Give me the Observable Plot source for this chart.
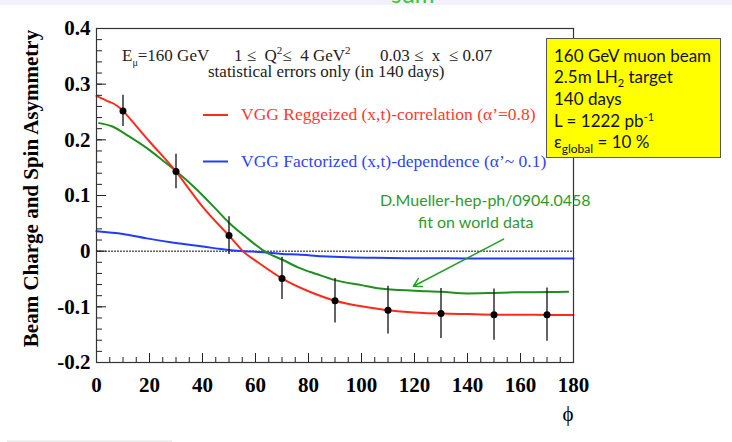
<!DOCTYPE html>
<html><head><meta charset="utf-8">
<script src="https://cdn.jsdelivr.net/npm/d3@7"></script>
<script src="https://cdn.jsdelivr.net/npm/@observablehq/plot@0.6"></script>
<style>
body{margin:0;background:#fff;}
#wrap{position:relative;width:732px;height:442px;overflow:hidden;background:#fff;}
svg text{white-space:pre;}
</style></head><body><div id="wrap"></div>
<script>
// ---- data ----
const pointPhi = [10, 30, 50, 70, 90, 110, 130, 150, 170];
const pointAsym = [0.252, 0.143, 0.028, -0.049, -0.089, -0.106, -0.112, -0.114, -0.114];
const pointErr = [0.028, 0.031, 0.034, 0.038, 0.040, 0.043, 0.045, 0.046, 0.048];

const redPhi = [0, 5, 10, 20, 30, 40, 50, 55, 60, 70, 80, 90, 100, 110, 120, 130, 140, 150, 160, 170, 180];
const redAsym = [0.279, 0.268, 0.252, 0.197, 0.143, 0.080, 0.028, 0.001, -0.017, -0.049, -0.072, -0.089, -0.099, -0.106, -0.110, -0.112, -0.113, -0.114, -0.114, -0.1145, -0.1145];

const greenPhi = [1, 6, 12, 19, 25, 30, 38, 45, 50, 57, 64, 70, 76, 83, 90, 100, 107, 120, 130, 140, 150, 158, 170, 178];
const greenAsym = [0.230, 0.224, 0.207, 0.185, 0.163, 0.144, 0.110, 0.076, 0.051, 0.023, -0.002, -0.015, -0.029, -0.041, -0.052, -0.061, -0.067, -0.071, -0.073, -0.076, -0.075, -0.074, -0.0735, -0.073];

const bluePhi = [0, 10, 19, 28, 38, 45, 50, 56, 63, 70, 76, 85, 95, 105, 120, 140, 160, 180];
const blueAsym = [0.036, 0.031, 0.023, 0.016, 0.0096, 0.005, 0.002, 0.000, -0.002, -0.005, -0.006, -0.009, -0.011, -0.012, -0.0126, -0.013, -0.013, -0.013];

const xMajorTicks = [0, 20, 40, 60, 80, 100, 120, 140, 160, 180];
const xMinorTicks = d3.range(0, 181, 5);
const yMajorTicks = [-0.2, -0.1, 0, 0.1, 0.2, 0.3, 0.4];
const yMinorTicks = d3.range(-10, 21).map(i => i * 0.02);

const arrowFrom = [153.6, 0.0216];
const arrowTo = [119.6, -0.063];

const infoLines = ["160 GeV muon beam", "2.5m LH<tspan dy='4' font-size='11'>2</tspan><tspan dy='-4'> target</tspan>", "140 days", "L = 1222 pb<tspan dy='-6' font-size='11'>-1</tspan>", "ε<tspan dy='5' font-size='12'>global</tspan><tspan dy='-5'> = 10 %</tspan>"];

const points = pointPhi.map((p, i) => ({phi: p, a: pointAsym[i], e: pointErr[i]}));
const red = redPhi.map((p, i) => ({phi: p, a: redAsym[i]}));
const green = greenPhi.map((p, i) => ({phi: p, a: greenAsym[i]}));
const blue = bluePhi.map((p, i) => ({phi: p, a: blueAsym[i]}));

const RED = "#ff2a1a", GREEN = "#1f8f1f", BLUE = "#1f3cff";
const serif = "Liberation Serif";

const chart = Plot.plot({
  width: 732, height: 442,
  marginLeft: 96, marginRight: 159, marginTop: 28, marginBottom: 80,
  x: {domain: [0, 180], label: null},
  y: {domain: [-0.2, 0.4], label: null},
  style: {fontFamily: serif, background: "transparent", color: "#000"},
  marks: [
    Plot.ruleY([0], {stroke: "#111", strokeWidth: 1, strokeDasharray: "2,1"}),
    Plot.line(blue, {x: "phi", y: "a", stroke: BLUE, strokeWidth: 2, curve: "monotone-x"}),
    Plot.line(green, {x: "phi", y: "a", stroke: GREEN, strokeWidth: 2, curve: "monotone-x"}),
    Plot.line(red, {x: "phi", y: "a", stroke: RED, strokeWidth: 2, curve: "natural"}),
    Plot.ruleX(points, {x: "phi", y1: d => d.a - d.e, y2: d => d.a + d.e, stroke: "#222", strokeWidth: 1.4}),
    Plot.dot(points, {x: "phi", y: "a", r: 3.5, fill: "#000", stroke: "none"}),
    Plot.arrow([0], {x1: () => arrowFrom[0], y1: () => arrowFrom[1], x2: () => arrowTo[0], y2: () => arrowTo[1], stroke: "#22a022", strokeWidth: 1.5, headLength: 9}),
    Plot.axisY(yMinorTicks, {tickSize: -6, tickFormat: () => "", stroke: "#222", label: null}),
    Plot.axisY(yMajorTicks, {tickSize: -10, tickFormat: () => "", stroke: "#222", label: null}),
    Plot.axisY(yMajorTicks, {tickSize: 0, tickPadding: 6, fontSize: 21, fontWeight: "bold", label: null,
      tickFormat: d => d === 0 ? "0" : d.toFixed(1)}),
    Plot.axisX(xMinorTicks, {tickSize: -5, tickFormat: () => "", stroke: "#222", label: null}),
    Plot.axisX(xMajorTicks, {tickSize: -9, tickFormat: () => "", stroke: "#222", label: null}),
    Plot.axisX(xMajorTicks, {tickSize: 0, tickPadding: 15, fontSize: 21, fontWeight: "bold", label: null, tickFormat: d => String(d)}),
    Plot.frame({stroke: "#333", strokeWidth: 1.2})
  ]
});

const wrap = document.getElementById("wrap");
wrap.appendChild(chart);
const svg = d3.select(chart);

// page decorations
svg.insert("rect", ":first-child").attr("x", 0).attr("y", 0).attr("width", 732).attr("height", 5).attr("fill", "#f2f0fb");
svg.append("text").attr("x", 391).attr("y", 3).attr("text-anchor", "start").attr("font-family", "Lato").attr("font-size", 24).attr("fill", "#2fcc2f").text("sum");
svg.append("rect").attr("x", 7).attr("y", 440.5).attr("width", 165).attr("height", 1.5).attr("fill", "#e8e8e8");

// axis labels
svg.append("text").attr("transform", "translate(37.5,188.5) rotate(-90)").attr("text-anchor", "middle")
  .attr("font-family", serif).attr("font-weight", "bold").attr("font-size", 21).text("Beam Charge and Spin Asymmetry");
svg.append("text").attr("x", 568).attr("y", 421).attr("text-anchor", "middle")
  .attr("font-family", serif).attr("font-size", 21).text("ϕ");

// in-plot header
function t(x, y, html, size, color, font) {
  return svg.append("text").attr("x", x).attr("y", y).attr("text-anchor", "start").attr("font-family", font || serif)
    .attr("font-size", size).attr("fill", color || "#222").html(html);
}
t(122, 61, "E<tspan dy='5' font-size='10'>μ</tspan><tspan dy='-5'>=160 GeV</tspan>", 17);
t(234, 61, "1 ≤  Q<tspan dy='-7' font-size='11'>2</tspan><tspan dy='7'>≤  4 GeV</tspan><tspan dy='-7' font-size='11'>2</tspan>", 17);
t(380, 61, "0.03 ≤  x  ≤ 0.07", 17);
t(208, 77, "statistical errors only (in 140 days)", 17);

// legend
svg.append("line").attr("x1", 203).attr("x2", 228).attr("y1", 115).attr("y2", 115).attr("stroke", RED).attr("stroke-width", 2);
t(241, 120, "VGG Reggeized (x,t)-correlation (α’=0.8)", 17.5, "#ff3a33");
svg.append("line").attr("x1", 203).attr("x2", 228).attr("y1", 161.5).attr("y2", 161.5).attr("stroke", BLUE).attr("stroke-width", 2);
t(241, 166.5, "VGG Factorized (x,t)-dependence (α’~ 0.1)", 17.5, "#2f44ff");

// green annotation
t(380, 206, "D.Mueller-hep-ph/0904.0458", 16, "#2e9a2e", "Lato");
t(418, 228, "fit on world data", 16, "#2e9a2e", "Lato");

// info box
svg.append("rect").attr("x", 546.5).attr("y", 38.5).attr("width", 174).attr("height", 119)
  .attr("fill", "#ffff00").attr("stroke", "#555").attr("stroke-width", 1);
infoLines.forEach((line, i) => t(554, 61.7 + i * 21.65, line, 17, "#111", "Lato"));
</script>
</body></html>
